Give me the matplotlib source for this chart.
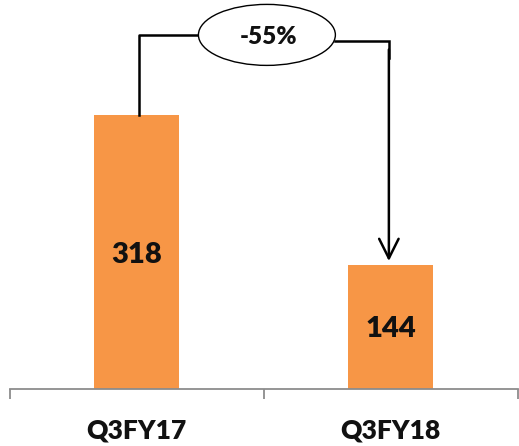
import matplotlib.pyplot as plt
from matplotlib.patches import Ellipse

periods = ["Q3FY17", "Q3FY18"]
values = [318, 144]
change_label = "-55%"

bar_color = "#F79646"
plt.rcParams['font.family'] = ['Lato', 'DejaVu Sans']

fig = plt.figure(figsize=(5.19, 4.46), dpi=100)
# axes spans the category range; bottom spine sits at the bar base
ax = fig.add_axes([9.5 / 519, 57 / 446, 508.2 / 519, 389 / 446])
x = list(range(len(periods)))
ax.bar(x, values, width=0.335, color=bar_color, zorder=2)
ax.set_xlim(-0.5, 1.5)
ax.set_ylim(0, 451.5)

for xi, v in zip(x, values):
    ax.text(xi, v / 2, str(v), ha="center", va="center_baseline",
            fontsize=21, fontweight="heavy", color="#111111")

# category axis with boundary ticks
for s in ["top", "left", "right"]:
    ax.spines[s].set_visible(False)
ax.spines["bottom"].set_color("#8c8c8c")
ax.spines["bottom"].set_linewidth(1.3)
ax.set_yticks([])
ax.set_xticks([-0.5, 0.5, 1.5])
ax.set_xticklabels([])
ax.tick_params(axis="x", direction="out", length=7.5, width=1.3, color="#8c8c8c")
for xi, p in zip(x, periods):
    ax.text(xi, -48, p, ha="center", va="center", fontsize=19,
            fontweight="heavy", color="#111111", clip_on=False)

# connector from first bar to second with the change bubble
y_left, y_right = 411, 404
ax.plot([0.01, 0.01, 0.25], [values[0], y_left, y_left], color="black", lw=1.8)
ax.plot([0.78, 0.993, 0.993], [y_right, y_right, y_right - 20],
        color="black", lw=1.8, solid_joinstyle="miter")
ax.annotate("", xy=(0.993, values[1] + 4.5), xytext=(0.993, y_right - 10),
            arrowprops=dict(arrowstyle="->,head_length=1.4,head_width=0.7",
                            color="black", lw=1.8, shrinkA=0, shrinkB=0))
ax.add_patch(Ellipse((0.513, 411), 0.539, 70.8, facecolor="white",
                     edgecolor="black", lw=1.0, zorder=3, clip_on=False))
ax.text(0.52, 408, change_label, ha="center", va="center", fontsize=17.5,
        fontweight="heavy", color="#111111", zorder=4)

fig.savefig("out.png", dpi=100)
